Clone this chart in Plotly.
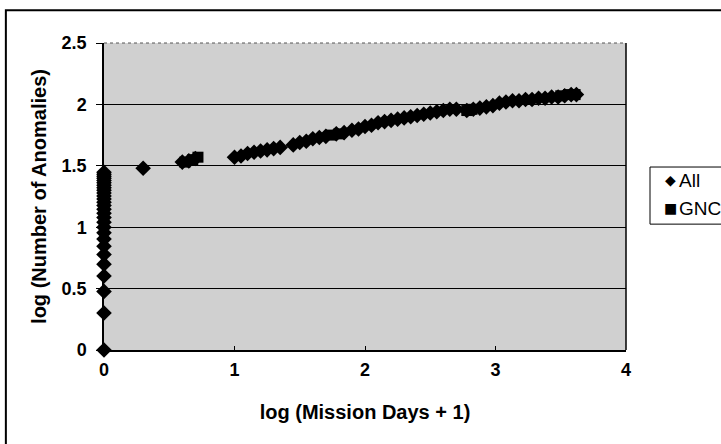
import plotly.graph_objects as go

# All anomalies: mission day 0 cluster, then later days
all_x = [0]*28 + [0.30, 0.60, 0.65, 0.70,
         1.00, 1.05, 1.10, 1.15, 1.20, 1.25, 1.30, 1.35, 1.45, 1.50, 1.55, 1.60, 1.65, 1.70,
         1.78, 1.84, 1.90, 1.95, 2.00, 2.05, 2.10, 2.15, 2.20, 2.25, 2.30, 2.35, 2.40, 2.45,
         2.50, 2.55, 2.60, 2.65, 2.70, 2.78, 2.83, 2.88, 2.93, 2.98, 3.03, 3.08, 3.13, 3.18,
         3.23, 3.28, 3.33, 3.38, 3.43, 3.48, 3.53, 3.58, 3.62]
all_y = [0.0, 0.301, 0.477, 0.602, 0.699, 0.778, 0.845, 0.903, 0.954, 1.0, 1.041, 1.079,
         1.114, 1.146, 1.176, 1.204, 1.230, 1.255, 1.279, 1.301, 1.322, 1.342, 1.362, 1.380,
         1.398, 1.415, 1.431, 1.447,
         1.48, 1.53, 1.54, 1.56,
         1.57, 1.58, 1.60, 1.61, 1.62, 1.63, 1.64, 1.65, 1.67, 1.69, 1.70, 1.72, 1.73, 1.74,
         1.76, 1.77, 1.79, 1.80, 1.82, 1.83, 1.85, 1.86, 1.87, 1.88, 1.89, 1.90, 1.91, 1.92,
         1.93, 1.94, 1.95, 1.96, 1.96, 1.95, 1.96, 1.97, 1.98, 1.99, 2.01, 2.02, 2.03, 2.03,
         2.04, 2.04, 2.05, 2.05, 2.06, 2.06, 2.07, 2.08, 2.08]

# GNC anomalies (squares)
gnc_x = [0.62, 0.68, 0.72, 1.74, 1.80, 2.78, 2.82, 3.50, 3.56, 3.61]
gnc_y = [1.53, 1.55, 1.57, 1.75, 1.76, 1.95, 1.96, 2.07, 2.08, 2.08]

series_names = ["All", "GNC"]
series_glyphs = ["\u25C6", "\u25A0"]

x_ticks = [0, 1, 2, 3, 4]
y_ticks = [0, 0.5, 1, 1.5, 2, 2.5]
y_labels = ["0", "0.5", "1", "1.5", "2", "2.5"]

FONT = "Liberation Sans, Arial, sans-serif"

fig = go.Figure()
fig.add_trace(go.Scatter(x=all_x, y=all_y, mode="markers", name=series_names[0],
                         marker=dict(symbol="diamond", size=12, color="black"),
                         cliponaxis=False, showlegend=False))
fig.add_trace(go.Scatter(x=gnc_x, y=gnc_y, mode="markers", name=series_names[1],
                         marker=dict(symbol="square", size=11, color="black"),
                         cliponaxis=False, showlegend=False))

fig.update_layout(
    width=721, height=444,
    margin=dict(l=104, r=95, t=43, b=94),
    paper_bgcolor="white",
    plot_bgcolor="#d0d0d0",
    font=dict(family=FONT, size=17, color="black"),
    showlegend=False,
    xaxis=dict(range=[0, 4], tickvals=x_ticks,
               ticktext=["<b>%s</b>" % v for v in x_ticks],
               showgrid=False, zeroline=False, showline=True, linecolor="black",
               linewidth=1.5, ticks="inside", ticklen=4, tickcolor="black",
               automargin=False, ticklabelstandoff=3,
               tickfont=dict(family=FONT, size=18),
               title=dict(text="<b>log (Mission Days + 1)</b>",
                          font=dict(family=FONT, size=20), standoff=26)),
    yaxis=dict(range=[0, 2.5], tickvals=y_ticks,
               ticktext=["<b>%s</b>" % t for t in y_labels],
               showgrid=True, gridcolor="black", gridwidth=1.2, zeroline=False,
               showline=True, linecolor="black", linewidth=1.5, ticks="outside",
               ticklen=6, tickcolor="black", automargin=False,
               ticklabelstandoff=6,
               tickfont=dict(family=FONT, size=18),
               title=dict(text="<b>log (Number of Anomalies)</b>",
                          font=dict(family=FONT, size=20), standoff=10)),
)

# right edge and top of plot area
fig.add_shape(type="line", xref="paper", yref="paper", x0=1, x1=1, y0=0, y1=1,
              line=dict(color="black", width=1.5))
fig.add_shape(type="line", xref="paper", yref="paper", x0=0, x1=1, y0=1, y1=1,
              line=dict(color="#555555", width=1, dash="dot"))
# outer chart border
fig.add_shape(type="rect", xref="paper", yref="paper",
              x0=-0.188, x1=1.35, y0=-0.5, y1=1.107,
              line=dict(color="black", width=2), layer="below")

# legend box (reference legend is clipped at the right edge)
fig.add_shape(type="rect", xref="paper", yref="paper",
              x0=1.046, x1=1.30, y0=0.410, y1=0.596,
              line=dict(color="black", width=1), fillcolor="white")
leg_rows_y = [0.553, 0.462]
for name, glyph, yy in zip(series_names, series_glyphs, leg_rows_y):
    fig.add_annotation(xref="paper", yref="paper", x=1.0845, y=yy,
                       text=glyph, showarrow=False, xanchor="center", yanchor="middle",
                       font=dict(family="DejaVu Sans", size=14, color="black"))
    fig.add_annotation(xref="paper", yref="paper", x=1.098, y=yy,
                       text=name, showarrow=False, xanchor="left", yanchor="middle",
                       font=dict(family=FONT, size=19, color="black"))

fig.write_html("out.html",
               config={"responsive": False, "displayModeBar": False},
               post_script="document.body.style.margin='0';document.body.style.overflow='hidden';")
